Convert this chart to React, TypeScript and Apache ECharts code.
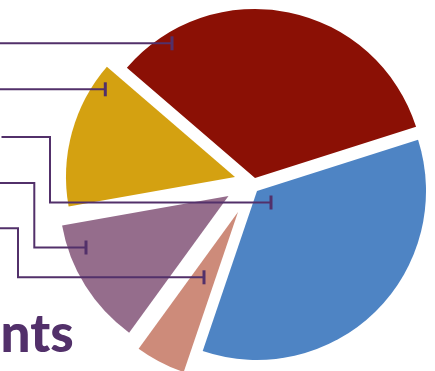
import React, { useEffect, useRef } from 'react';
import * as echarts from 'echarts';

// ---- data ----
const categories = ['Segment A', 'Segment B', 'Segment C', 'Segment D', 'Segment E'];
const shares = [33.8, 35.1, 4.8, 12.2, 14.1];
const titleText = 'nts';

// ---- layout / style ----
const sliceColors = ['#8B1005', '#4E84C4', '#CD8B7A', '#956D8C', '#D4A111'];
const pieCenter = [248, 190];
const sliceShift = [
  [7, -12],
  [9, 1],
  [-10, 22],
  [-19.5, 6],
  [-13, -13],
];
const pieRadius = 169;
const startAngle = 139.3;
const leaderColor = '#52306A';
const leaderPaths: number[][][] = [
  [[-5, 43.3], [172, 43.3]],
  [[-5, 89.3], [105.3, 89.3]],
  [[1.5, 137], [50, 137], [50, 202.5], [271, 202.5]],
  [[-5, 183], [34.3, 183], [34.3, 247.5], [86, 247.5]],
  [[-5, 228.3], [18, 228.3], [18, 277.3], [204, 277.3]],
];
const tickHalf = 7;

export default function App() {
  const ref = useRef<HTMLDivElement>(null);
  useEffect(() => {
    if (!ref.current) return;
    const chart = echarts.init(ref.current, undefined, { renderer: 'svg' });
    const series = shares.map((_, i) => ({
      type: 'pie',
      center: [pieCenter[0] + sliceShift[i][0], pieCenter[1] + sliceShift[i][1]],
      radius: pieRadius,
      startAngle,
      clockwise: true,
      silent: true,
      avoidLabelOverlap: false,
      label: { show: false },
      labelLine: { show: false },
      emphasis: { disabled: true },
      z: 2 + i,
      data: shares.map((v, j) => ({
        name: categories[j],
        value: v,
        itemStyle: {
          color: j === i ? sliceColors[j] : 'rgba(0,0,0,0)',
          borderWidth: 0,
        },
      })),
    }));
    const graphics: any[] = [];
    leaderPaths.forEach((pts) => {
      const end = pts[pts.length - 1];
      graphics.push({
        type: 'polyline',
        z: 100,
        shape: { points: pts },
        style: { stroke: leaderColor, lineWidth: 2, fill: null },
      });
      graphics.push({
        type: 'line',
        z: 100,
        shape: { x1: end[0], y1: end[1] - tickHalf, x2: end[0], y2: end[1] + tickHalf },
        style: { stroke: leaderColor, lineWidth: 3 },
      });
    });
    graphics.push({
      type: 'text',
      z: 100,
      style: {
        text: titleText,
        x: 0.5,
        y: 331,
        fill: '#52306A',
        font: '900 53px Lato, "Noto Sans", sans-serif',
        align: 'left',
        verticalAlign: 'middle',
        textAlign: 'left',
        textVerticalAlign: 'middle',
      },
    });
    chart.setOption({
      animation: false,
      backgroundColor: '#ffffff',
      series,
      graphic: graphics,
    });
    return () => chart.dispose();
  }, []);
  return (
    <div
      ref={ref}
      style={{ position: 'fixed', left: 0, top: 0, width: 435, height: 371 }}
    />
  );
}
